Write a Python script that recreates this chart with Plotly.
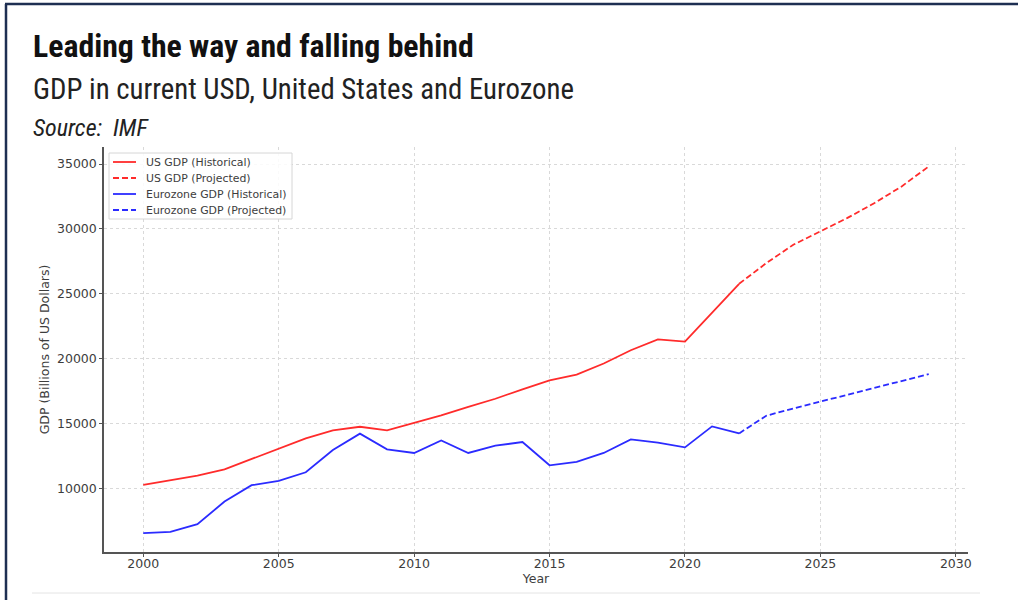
import plotly.graph_objects as go

# GDP in current USD, billions
years_hist = list(range(2000, 2023))
years_proj = list(range(2022, 2030))

us_hist = [10250, 10590, 10975, 11460, 12250, 13060, 13840, 14460, 14740, 14470,
           15050, 15620, 16280, 16900, 17630, 18320, 18760, 19620, 20640, 21480,
           21310, 23560, 25770]
us_proj = [25770, 27360, 28780, 29820, 30850, 32000, 33280, 34820]

ez_hist = [6540, 6640, 7230, 8970, 10230, 10560, 11230, 12950, 14210, 13000,
           12720, 13690, 12720, 13280, 13560, 11770, 12030, 12720, 13770, 13510,
           13150, 14770, 14230]
ez_proj = [14230, 15590, 16150, 16690, 17230, 17740, 18280, 18800]

series_names = ["US GDP (Historical)", "US GDP (Projected)",
                "Eurozone GDP (Historical)", "Eurozone GDP (Projected)"]

x_ticks = [2000, 2005, 2010, 2015, 2020, 2025, 2030]
y_ticks = [10000, 15000, 20000, 25000, 30000, 35000]
y_tick_text = [str(v) for v in y_ticks]

RED = "#ff2b2b"
BLUE = "#2b2bff"
TXT = "#3d3d3d"
DASH = "6px,3px"
CHART_FONT = "DejaVu Sans"
HEAD_FONT = "Liberation Sans Narrow, Roboto Condensed, Roboto, sans-serif"

styles = [(RED, "solid"), (RED, DASH), (BLUE, "solid"), (BLUE, DASH)]
data = [(years_hist, us_hist), (years_proj, us_proj),
        (years_hist, ez_hist), (years_proj, ez_proj)]

fig = go.Figure()
for name, (xs, ys), (col, dash) in zip(series_names, data, styles):
    fig.add_trace(go.Scatter(x=xs, y=ys, mode="lines", name=name, showlegend=False,
                             line=dict(color=col, width=1.8, dash=dash)))

L, R, T, B = 104, 50, 147, 48
W, H = 1018, 600
pw, ph = W - L - R, H - T - B


def px(xp):
    return (xp - L) / pw


def py(yp):
    return (H - B - yp) / ph


annotations = [
    dict(text="<b>Leading the way and falling behind</b>", x=px(31), y=py(46),
         font=dict(family=HEAD_FONT, size=31.8, color="#111111")),
    dict(text="GDP in current USD, United States and Eurozone", x=px(31), y=py(89),
         font=dict(family=HEAD_FONT, size=28.8, color="#222222")),
    dict(text="<i>Source:  IMF</i>", x=px(31), y=py(128),
         font=dict(family=HEAD_FONT, size=24, color="#222222")),
]
for a in annotations:
    a.update(xref="paper", yref="paper", xanchor="left", yanchor="middle",
             showarrow=False)

shapes = [
    # frame: left and top edges
    dict(type="line", xref="paper", yref="paper", x0=px(6), x1=px(6), y0=py(4), y1=py(605),
         line=dict(color="#1e2f52", width=2.5)),
    dict(type="line", xref="paper", yref="paper", x0=px(5), x1=px(1025), y0=py(4), y1=py(4),
         line=dict(color="#1e2f52", width=2.5)),
    # footer rule
    dict(type="line", xref="paper", yref="paper", x0=px(32), x1=px(980), y0=py(593), y1=py(593),
         line=dict(color="#e4e4e4", width=1)),
    # legend box
    dict(type="rect", xref="paper", yref="paper", x0=px(109), x1=px(292), y0=py(153), y1=py(219),
         line=dict(color="#d6d6d6", width=1), fillcolor="rgba(255,255,255,0.85)", layer="above"),
]

# legend rows: sample line + label
for i, (name, (col, dash)) in enumerate(zip(series_names, styles)):
    yrow = 162 + 16 * i
    shapes.append(dict(type="line", xref="paper", yref="paper", layer="above",
                       x0=px(113), x1=px(136), y0=py(yrow), y1=py(yrow),
                       line=dict(color=col, width=1.8, dash=dash)))
    annotations.append(dict(text=name, xref="paper", yref="paper", x=px(144), y=py(yrow),
                            xanchor="left", yanchor="middle", showarrow=False,
                            font=dict(family=CHART_FONT, size=10.9, color=TXT)))

fig.update_layout(
    width=W, height=H,
    margin=dict(l=L, r=R, t=T, b=B, autoexpand=False),
    paper_bgcolor="white", plot_bgcolor="white",
    font=dict(family=CHART_FONT, color=TXT, size=12),
    annotations=annotations,
    shapes=shapes,
    showlegend=False,
)

fig.update_xaxes(range=[1998.55, 2030.45], tickvals=x_ticks, ticks="outside", ticklen=3,
                 tickcolor="#555", showline=True, linecolor="#555", linewidth=1.5,
                 showgrid=True, gridcolor="#d9d9d9", griddash="dot", gridwidth=1,
                 zeroline=False, tickfont=dict(size=12.5), ticklabelstandoff=-4,
                 title=dict(text="Year", font=dict(size=12.5), standoff=2))
fig.update_yaxes(range=[5080, 36320], tickvals=y_ticks, ticktext=y_tick_text,
                 ticks="outside", ticklen=3,
                 tickcolor="#555", showline=True, linecolor="#555", linewidth=1.5,
                 showgrid=True, gridcolor="#d9d9d9", griddash="dot", gridwidth=1,
                 zeroline=False, tickfont=dict(size=12.5),
                 title=dict(text="GDP (Billions of US Dollars)", font=dict(size=12.5), standoff=5))

fig.write_html("out.html")
